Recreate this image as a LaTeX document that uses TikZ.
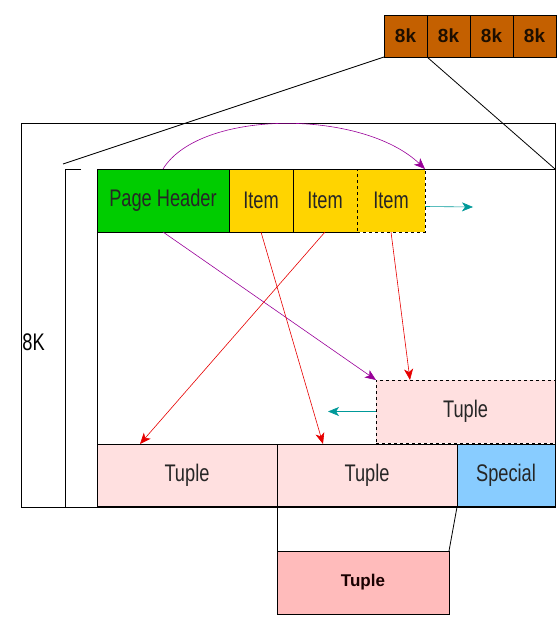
\documentclass[tikz,border=0pt]{standalone}
\usepackage{fontspec}
\setmainfont[FakeStretch=0.76]{Liberation Sans}
\newfontfamily\widesans{Liberation Sans}
\usetikzlibrary{arrows.meta, positioning}
\definecolor{brick}{RGB}{196,96,0}
\definecolor{hdrgreen}{RGB}{0,204,0}
\definecolor{itemyellow}{RGB}{255,212,0}
\definecolor{tuplepink}{RGB}{255,224,224}
\definecolor{bigpink}{RGB}{255,187,187}
\definecolor{specialblue}{RGB}{136,204,255}
\definecolor{ptrpurple}{RGB}{153,0,153}
\definecolor{ptrred}{RGB}{230,0,0}
\definecolor{ptrteal}{RGB}{0,153,153}

\begin{document}
\begin{tikzpicture}[x=1pt,y=-1pt,line width=0.8pt,
		box/.style={draw, inner sep=0pt, outer sep=0pt, minimum height=63pt, text=black!85, font=\fontsize{24}{26}\selectfont},
		hdrbox/.style={box, fill=hdrgreen, minimum width=132pt},
		itembox/.style={box, fill=itemyellow, minimum width=64pt},
		tuplebox/.style={box, fill=tuplepink, minimum width=180pt},
		kbox/.style={draw, fill=brick, inner sep=0pt, outer sep=0pt, minimum width=43pt, minimum height=42pt, text=black!85!brick, font=\widesans\bfseries\fontsize{19}{19}\selectfont},
		ptr/.style={line width=0.6pt, -{Stealth[length=11pt,width=9pt,inset=3pt]}}]
	\useasboundingbox (0,0) rectangle (558,631);
	\node[kbox, anchor=north west] (k1) at (384,15) {8k};
	\node[kbox, right=0pt of k1] (k2) {8k};
	\node[kbox, right=0pt of k2] (k3) {8k};
	\node[kbox, right=0pt of k3] (k4) {8k};
	\node[draw, inner sep=0pt, outer sep=0pt, minimum width=534pt, minimum height=384pt, anchor=north west] (mem) at (21,123) {};
	\node[hdrbox, anchor=north west] (hdr) at (97,169) {Page Header};
	\node[itembox, right=0pt of hdr] (item1) {Item};
	\node[itembox, right=0pt of item1] (item2) {Item};
	\node[itembox, dashed, minimum width=68pt, right=0pt of item2] (item3) {Item};
	\node[tuplebox, anchor=south west] (tuple1) at (97,507) {Tuple};
	\node[tuplebox, right=0pt of tuple1] (tuple2) {Tuple};
	\node[box, fill=specialblue, minimum width=98pt, right=0pt of tuple2] (special) {Special};
	\node[tuplebox, dashed, minimum width=179pt, anchor=south east] (newtuple) at (555,443) {Tuple};
	\node[draw, inner sep=0pt, outer sep=0pt, minimum width=458pt, minimum height=338pt, anchor=north west] (page) at (97,169) {};
	\draw[line width=1.6pt] (tuple1.south west) -- (special.south east);
	\node[box, fill=bigpink, minimum width=172pt, anchor=north west, text=black!90!red, font=\widesans\bfseries\fontsize{17}{17}\selectfont] (bigtuple) at (277,551) {Tuple};
	\node[anchor=west, inner sep=0pt, font=\fontsize{24}{26}\selectfont] (size) at (22,342) {8K};

	\coordinate (zoomleft) at (63,164);
	\coordinate (brtop) at (81,169);
	\coordinate (brbot) at (81,507);
	\coordinate (grow) at (473,207);
	\draw (k1.south west) -- (zoomleft);
	\draw (k1.south east) -- (page.north east);
	\draw (brtop) -- ++(-16,0) |- (brbot);
	\draw (tuple2.south west) -- (bigtuple.north west);
	\draw (special.south west) -- (bigtuple.north east);

	\draw[ptr, ptrpurple] (hdr.north) .. controls +(37,-60) and +(-63,-60) .. (item3.north east);
	\draw[ptr, ptrpurple] (hdr.south) -- (newtuple.north west);
	\draw[ptr, ptrred] (item1.south) -- ([xshift=46pt]tuple2.north west);
	\draw[ptr, ptrred] (item2.south) -- ([xshift=43pt]tuple1.north west);
	\draw[ptr, ptrred] (item3.south) -- ([xshift=34pt]newtuple.north west);
	\draw[ptr, ptrteal] ([yshift=-6pt]item3.east) -- (grow);
	\draw[ptr, ptrteal] (newtuple.west) -- ++(-48,0);
\end{tikzpicture}
\end{document}
